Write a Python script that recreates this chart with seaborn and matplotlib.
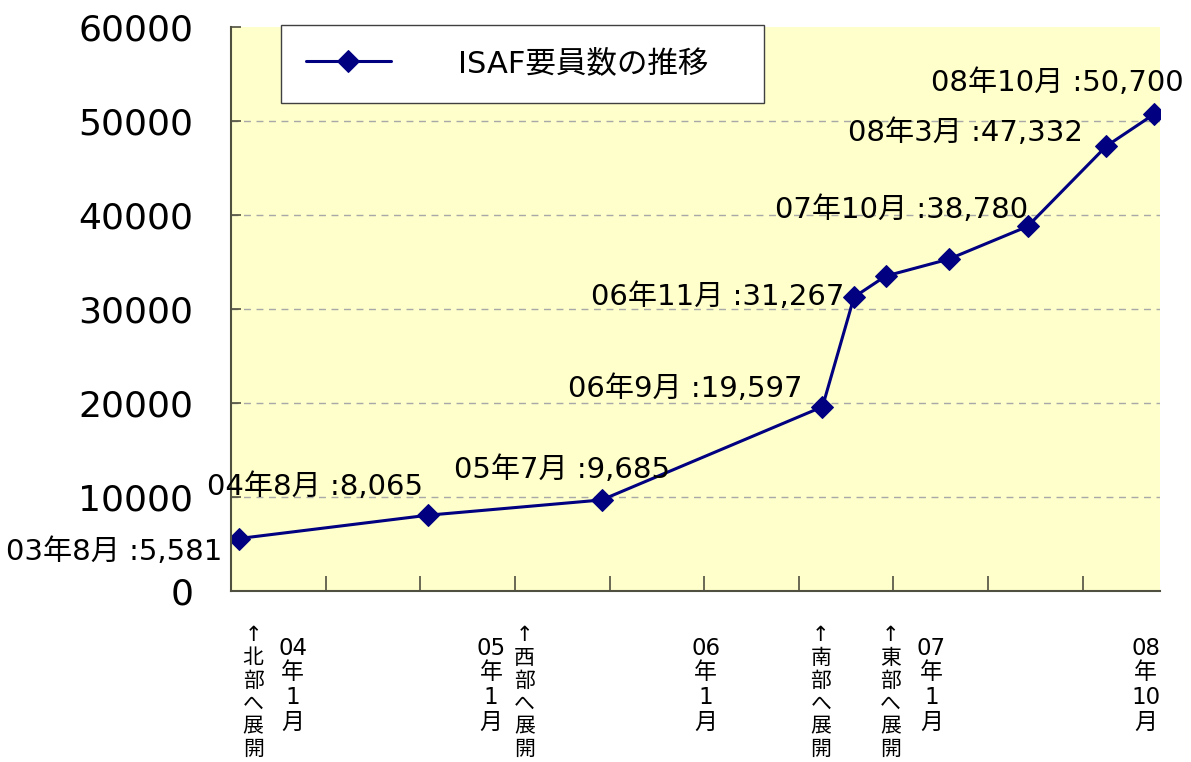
import matplotlib
matplotlib.use("Agg")
import matplotlib.pyplot as plt
import pandas as pd
import seaborn as sns

# ---------------- data ----------------
# x position of each observation, in months after Aug 2003 (as placed on the chart)
month_index = [0, 12, 23, 37, 39, 41, 45, 50, 55, 58]
personnel = [5581, 8065, 9685, 19597, 31267, 33500, 35300, 38780, 47332, 50700]
point_labels = ["03年8月", "04年8月", "05年7月", "06年9月", "06年11月",
                "", "", "07年10月", "08年3月", "08年10月"]
series_name = "ISAF要員数の推移"

y_ticks = [0, 10000, 20000, 30000, 40000, 50000, 60000]
x_ticks = [-0.5, 5.5, 11.5, 17.5, 23.5, 29.5, 35.5, 41.5, 47.5, 53.5]
x_limits = (-0.5, 58.4)

date_labels = ["04年1月", "05年1月", "06年1月", "07年1月", "08年10月"]
date_label_x = [3.4, 16.0, 29.6, 43.9, 57.5]
event_labels = ["北部へ展開", "西部へ展開", "南部へ展開", "東部へ展開"]
event_label_x = [0.9, 18.1, 36.9, 41.3]

# ---------------- styling / placement ----------------
label_offsets = [(-17, -13, "right"), (-5, 28, "right"), (-40, 30, "center"),
                 (-20, 18, "right"), (-10, 0, "right"), None, None,
                 (1, 16, "right"), (-23, 13, "right"), (30, 31, "right")]
NAVY = "#000080"
BG = "#FFFFCC"

sns.set_theme(style="white")
plt.rcParams["font.family"] = ["DejaVu Sans", "Noto Sans CJK JP"]
plt.rcParams["axes.unicode_minus"] = False
plt.rcParams["text.color"] = "black"

fig = plt.figure(figsize=(11.91, 7.62), dpi=100)
ax = fig.add_axes([231 / 1191, 1 - 591 / 762, (1160 - 231) / 1191, (591 - 27) / 762])
ax.set_facecolor(BG)

df = pd.DataFrame({"month": month_index, "personnel": personnel})
sns.lineplot(data=df, x="month", y="personnel", ax=ax, color=NAVY,
             linewidth=2.2, marker="D", markersize=11,
             markeredgecolor=NAVY, markerfacecolor=NAVY,
             label=series_name, sort=False)

ax.set_xlim(*x_limits)
ax.set_ylim(y_ticks[0], y_ticks[-1])
ax.set_yticks(y_ticks)
ax.set_yticklabels([str(v) for v in y_ticks], fontsize=26, color="black")
ax.set_xticks(x_ticks)
ax.set_xticklabels([])
ax.set_xlabel("")
ax.set_ylabel("")

ax.yaxis.grid(True, linestyle=(0, (5, 4)), color="#a8a8a8", linewidth=1)
ax.xaxis.grid(False)
gl = ax.get_ygridlines()
gl[0].set_visible(False)
gl[-1].set_visible(False)

for s in ["top", "right"]:
    ax.spines[s].set_visible(False)
for s in ["left", "bottom"]:
    ax.spines[s].set_color("#505040")
    ax.spines[s].set_linewidth(1.5)
ax.tick_params(axis="y", direction="in", length=7, width=1.2, color="#505040",
               pad=27, left=True)
ax.tick_params(axis="x", direction="in", length=11, width=1.2, color="#505040",
               bottom=True)

# point annotations
for x, y, lab, off in zip(month_index, personnel, point_labels, label_offsets):
    if not lab or off is None:
        continue
    dx, dy, ha = off
    ax.annotate(f"{lab} :{y:,}", xy=(x, y), xytext=(dx, dy),
                textcoords="offset pixels", ha=ha, va="center",
                fontsize=21, color="black", annotation_clip=False)

# vertical labels under the axis
trans = ax.get_xaxis_transform()
for x, lab in zip(date_label_x, date_labels):
    parts = [lab[:2], "年", lab[3:-1], "月"]
    ax.text(x, -0.081, "\n".join(parts), transform=trans, ha="center", va="top",
            fontsize=16.5, linespacing=1.1, color="black", clip_on=False)
for x, lab in zip(event_label_x, event_labels):
    ax.text(x, -0.06, "\n".join(["↑"] + list(lab)), transform=trans,
            ha="center", va="top", fontsize=15, linespacing=1.18,
            color="black", clip_on=False)

leg = ax.legend(loc="upper left", bbox_to_anchor=(0.054, 1.004), borderaxespad=0,
                fontsize=22, frameon=True, fancybox=False, framealpha=1,
                handlelength=2.8, handletextpad=2.2, borderpad=0.8,
                numpoints=1)
leg.get_frame().set_edgecolor("#404040")
leg.get_frame().set_linewidth(1.0)
leg.get_frame().set_facecolor("white")
leg.get_texts()[0].set_text(series_name + "\u3000")
leg.get_texts()[0].set_color("black")

fig.savefig("out.png", dpi=100, facecolor="white")
